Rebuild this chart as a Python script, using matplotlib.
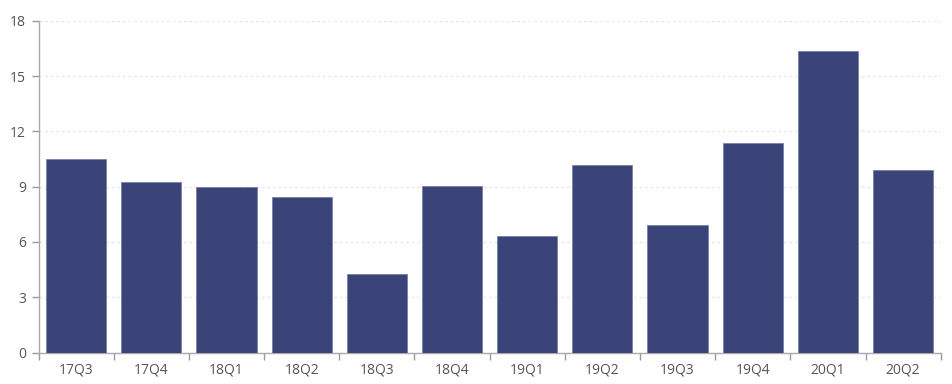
import matplotlib
matplotlib.use("Agg")
import matplotlib.pyplot as plt
import numpy as np

quarters = ["17Q3", "17Q4", "18Q1", "18Q2", "18Q3", "18Q4",
            "19Q1", "19Q2", "19Q3", "19Q4", "20Q1", "20Q2"]
values = [10.48, 9.23, 8.98, 8.42, 4.25, 9.03,
          6.32, 10.17, 6.93, 11.38, 16.34, 9.89]
y_ticks = [0, 3, 6, 9, 12, 15, 18]

plt.rcParams["font.family"] = ["Open Sans", "DejaVu Sans"]

fig = plt.figure(figsize=(9.52, 3.84), dpi=100)
ax = fig.add_axes([38.5 / 952, 31.5 / 384, (940.7 - 38.5) / 952, (352.5 - 20.7) / 384])

x = np.arange(len(quarters))
ax.bar(x, values, width=0.8, color="#3a4479", edgecolor="#7a80a6", linewidth=0.6, zorder=3)

ax.set_xlim(-0.5, len(quarters) - 0.5)
ax.set_ylim(0, 18)
ax.set_yticks(y_ticks)
ax.set_yticklabels([str(v) for v in y_ticks])

# x ticks sit on category boundaries, labels centred on bars
ax.set_xticks(np.arange(-0.5, len(quarters), 1.0))
ax.set_xticklabels([])
ax.set_xticks(x, minor=True)
ax.set_xticklabels(quarters, minor=True)
ax.tick_params(axis="x", which="minor", length=0, pad=7, labelsize=10, labelcolor="#555555")
ax.tick_params(axis="x", which="major", length=5, color="#999999", width=1)
ax.tick_params(axis="y", length=5, color="#999999", width=1, pad=4, labelsize=10, labelcolor="#555555")

ax.grid(axis="y", color="#e8e8e8", linestyle=(0, (2, 2)), linewidth=1, zorder=0)
ax.set_axisbelow(True)

for side in ["top", "right"]:
    ax.spines[side].set_visible(False)
for side in ["left", "bottom"]:
    ax.spines[side].set_color("#aaaaaa")
    ax.spines[side].set_linewidth(1)

fig.savefig("out.png", dpi=100)
